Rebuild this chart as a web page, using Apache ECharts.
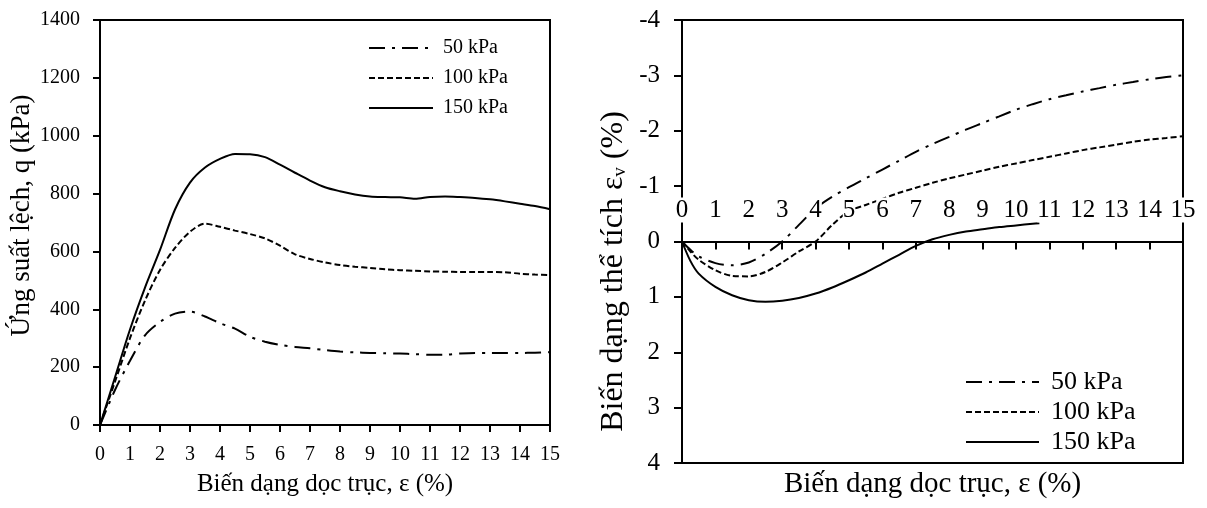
<!DOCTYPE html>
<html>
<head>
<meta charset="utf-8">
<script src="https://cdn.jsdelivr.net/npm/echarts@6/dist/echarts.min.js"></script>
<style>
  html, body { margin: 0; padding: 0; background: #fff; }
  #chart { width: 1207px; height: 508px; }
</style>
</head>
<body>
<div id="chart"></div>
<script>
  // ---- data ----
  var names = ['50 kPa', '100 kPa', '150 kPa'];

  // left: deviator stress q (kPa) vs axial strain (%)
  var strainQ = [0, 0.5, 1, 1.5, 2, 2.5, 3, 3.5, 4, 4.5, 5, 5.5, 6, 6.5, 7, 7.5,
                 8, 8.5, 9, 9.5, 10, 10.5, 11, 11.5, 12, 12.5, 13, 13.5, 14, 14.5, 15];
  var q50  = [0, 121, 222, 310, 356, 385, 392, 375, 352, 333, 305, 288, 277, 270, 265, 259,
              254, 251, 249, 248, 247, 245, 243, 243, 247, 249, 249, 249, 249, 250, 252];
  var q100 = [0, 150, 300, 430, 536, 612, 668, 696, 685, 672, 660, 645, 620, 590, 574, 562,
              553, 547, 543, 538, 535, 533, 531, 530, 529, 529, 529, 528, 523, 520, 518];
  var q150 = [0, 165, 330, 475, 605, 745, 838, 890, 920, 937, 936, 926, 900, 872, 845, 822,
              808, 797, 790, 788, 787, 782, 788, 790, 788, 785, 780, 773, 765, 757, 746];

  // right: volumetric strain (%) vs axial strain (%)
  var strainV = [0, 0.25, 0.5, 1, 1.5, 2, 2.5, 3, 3.5, 4, 4.5, 5, 5.5, 6, 6.5, 7, 7.5,
                 8, 8.5, 9, 9.5, 10, 10.5, 11, 11.5, 12, 12.5, 13, 13.5, 14, 14.5, 15];
  var v50  = [0, 0.15, 0.27, 0.39, 0.43, 0.38, 0.22, 0.0, -0.3, -0.6, -0.81, -0.98, -1.14, -1.3, -1.46, -1.62, -1.76,
              -1.89, -2.02, -2.14, -2.26, -2.38, -2.48, -2.57, -2.64, -2.71, -2.77, -2.83, -2.88, -2.93, -2.97, -3.0];
  var v100 = [0, 0.18, 0.33, 0.52, 0.62, 0.63, 0.55, 0.38, 0.18, 0.0, -0.3, -0.55, -0.66, -0.77, -0.88, -0.97, -1.06,
              -1.14, -1.21, -1.28, -1.35, -1.41, -1.47, -1.53, -1.59, -1.65, -1.7, -1.75, -1.8, -1.84, -1.87, -1.9];
  var strainV150 = [0, 0.25, 0.5, 1, 1.5, 2, 2.5, 3, 3.5, 4, 4.5, 5, 5.5, 6, 6.5, 7, 7.5,
                    8, 8.5, 9, 9.5, 10, 10.5, 10.7];
  var v150 = [0, 0.35, 0.58, 0.82, 0.97, 1.06, 1.09, 1.07, 1.02, 0.94, 0.83, 0.7, 0.56, 0.4, 0.24, 0.08, -0.04,
              -0.12, -0.18, -0.22, -0.26, -0.29, -0.32, -0.33];

  var FONT = '"Liberation Serif", "Times New Roman", serif';
  var dashTypes = [[16, 7, 3, 7], [6, 3], 'solid'];

  function pairs(xs, ys) {
    return xs.map(function (x, i) { return [x, ys[i]]; });
  }

  function curve(name, k, grid, data) {
    return {
      name: name,
      type: 'line',
      xAxisIndex: grid,
      yAxisIndex: grid,
      data: data,
      symbol: 'none',
      smooth: 0.3,
      itemStyle: { color: '#000' },
      lineStyle: { color: '#000', width: 2, type: dashTypes[k] }
    };
  }

  function plain(v) { return String(v); }

  var axisLine = { show: true, onZero: false, lineStyle: { color: '#000', width: 2 } };

  // right grid: 443 px tall, εv from -4 to 4, so εv = 0 sits 221.5 px above the bottom
  var rightH = 443;

  var option = {
    backgroundColor: '#fff',
    animation: false,
    textStyle: { fontFamily: FONT, color: '#000' },
    grid: [
      { left: 100, top: 20, width: 450, height: 405, show: true, borderColor: '#000', borderWidth: 2,
        outerBoundsMode: 'none' },
      { left: 682, top: 20, width: 501, height: rightH, show: true, borderColor: '#000', borderWidth: 2,
        outerBoundsMode: 'none' }
    ],
    legend: [
      {
        orient: 'vertical', left: 368, top: 38, padding: 0, itemWidth: 64, itemHeight: 14, itemGap: 10,
        selectedMode: false, data: names, itemStyle: { opacity: 0 },
        textStyle: { fontFamily: FONT, fontSize: 20, color: '#000', padding: [0, 0, 0, 5] }
      },
      {
        orient: 'vertical', left: 965, top: 369, padding: 0, itemWidth: 73, itemHeight: 14, itemGap: 4,
        selectedMode: false, data: names, itemStyle: { opacity: 0 },
        textStyle: { fontFamily: FONT, fontSize: 26, color: '#000', padding: [0, 0, 0, 7] }
      }
    ],
    xAxis: [
      {
        type: 'value', gridIndex: 0, min: 0, max: 15, interval: 1,
        axisLine: axisLine,
        axisTick: { length: 7, lineStyle: { color: '#000', width: 2 } },
        axisLabel: { fontFamily: FONT, fontSize: 20, color: '#000', margin: 20, formatter: plain,
                     showMinLabel: true, showMaxLabel: true },
        splitLine: { show: false },
        name: 'Biến dạng dọc trục, ε (%)', nameLocation: 'middle', nameGap: 47,
        nameTextStyle: { fontFamily: FONT, fontSize: 25, color: '#000' }
      },
      {
        // crosses at εv = 0, labels sit above the line on white boxes
        type: 'value', gridIndex: 1, min: 0, max: 15, interval: 1, z: 5,
        position: 'bottom', offset: -rightH / 2,
        axisLine: axisLine,
        axisTick: { inside: false, length: 8, lineStyle: { color: '#000', width: 2 } },
        axisLabel: { inside: true, fontFamily: FONT, fontSize: 25, color: '#000', margin: 19, formatter: plain,
                     backgroundColor: '#fff', showMinLabel: true, showMaxLabel: true },
        splitLine: { show: false },
        name: 'Biến dạng dọc trục, ε (%)', nameLocation: 'middle', nameGap: 228,
        nameTextStyle: { fontFamily: FONT, fontSize: 29, color: '#000' }
      }
    ],
    yAxis: [
      {
        type: 'value', gridIndex: 0, min: 0, max: 1400, interval: 200,
        axisLine: axisLine,
        axisTick: { show: true, length: 7, lineStyle: { color: '#000', width: 2 } },
        axisLabel: { fontFamily: FONT, fontSize: 20, color: '#000', margin: 20, formatter: plain },
        splitLine: { show: false },
        name: 'Ứng suất lệch, q (kPa)', nameLocation: 'middle', nameGap: 65,
        nameTextStyle: { fontFamily: FONT, fontSize: 27, color: '#000', padding: [0, 0, 0, 14] }
      },
      {
        type: 'value', gridIndex: 1, min: -4, max: 4, interval: 1, inverse: true,
        axisLine: axisLine,
        axisTick: { show: true, length: 8, lineStyle: { color: '#000', width: 2 } },
        axisLabel: { fontFamily: FONT, fontSize: 25, color: '#000', margin: 22, formatter: plain },
        splitLine: { show: false },
        name: 'Biến dạng thể tích ε{sub|v} (%)', nameLocation: 'middle', nameGap: 52,
        nameTextStyle: {
          fontFamily: FONT, fontSize: 32, color: '#000', padding: [0, 60, 0, 0],
          rich: { sub: { fontFamily: FONT, fontSize: 19, color: '#000', verticalAlign: 'bottom' } }
        }
      }
    ],
    series: [
      curve(names[0], 0, 0, pairs(strainQ, q50)),
      curve(names[1], 1, 0, pairs(strainQ, q100)),
      curve(names[2], 2, 0, pairs(strainQ, q150)),
      curve(names[0], 0, 1, pairs(strainV, v50)),
      curve(names[1], 1, 1, pairs(strainV, v100)),
      curve(names[2], 2, 1, pairs(strainV150, v150))
    ]
  };

  var chart = echarts.init(document.getElementById('chart'));
  chart.setOption(option);
</script>
</body>
</html>
